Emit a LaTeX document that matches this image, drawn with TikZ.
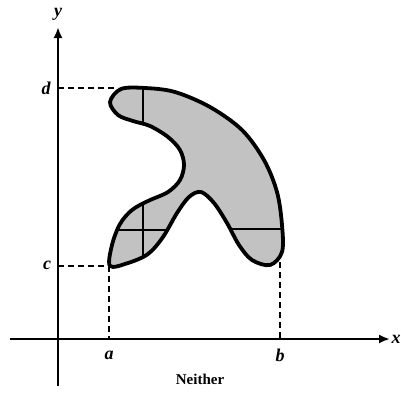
\documentclass[tikz,border=0pt]{standalone}
\usepackage{fontspec}
\setmainfont{Liberation Serif}
\usetikzlibrary{arrows.meta}
\begin{document}
\begin{tikzpicture}[x=1pt,y=-1pt,
  axis/.style={line width=2.3pt,-{Latex[length=11pt,width=9pt]}},
  guide/.style={line width=2.1pt,dash pattern=on 6pt off 4pt},
  edge/.style={line width=3.8pt,line join=round},
  slice/.style={line width=2.6pt},
  lab/.style={font=\fontsize{18}{18}\selectfont\bfseries\itshape,inner sep=0pt}]
\useasboundingbox (0,0) rectangle (401,399);
\def\region{plot[smooth cycle,tension=0.55] coordinates{
 (110,102) (121,89) (145,88) (175,92) (210,107) (242,130) (264,160) (277,192)
 (282,225) (282,252) (270,265) (252,260) (239,245) (227,223) (214,203) (201,192)
 (189,197) (177,213) (163,237) (148,254) (128,263) (110,266) (112,245) (120,224)
 (132,210) (148,201) (168,192) (180,180) (184,165) (180,150) (168,137) (150,126)
 (133,121) (118,115)}}
% axes
\coordinate (xs) at (10,339); \coordinate (xe) at (390,339);
\coordinate (ys) at (58,386); \coordinate (ye) at (58,27);
\draw[axis] (xs) -- (xe);
\draw[axis] (ys) -- (ye);
\node[lab] (ylab) at (58,14) {y};
\node[lab] (xlab) at (396,339) {x};
% guides
\coordinate (d0) at (58,88); \coordinate (d1) at (118,88);
\coordinate (c0) at (58,266); \coordinate (c1) at (110,266);
\coordinate (a0) at (109,266); \coordinate (a1) at (109,339);
\coordinate (b0) at (280,262); \coordinate (b1) at (280,339);
\draw[guide] (d0) -- (d1);
\draw[guide] (c0) -- (c1);
\draw[guide] (a0) -- (a1);
\draw[guide] (b0) -- (b1);
\node[lab] (dlab) at (46,88) {d};
\node[lab] (clab) at (47,265) {c};
\node[lab] (alab) at (109,355) {a};
\node[lab] (blab) at (280,355) {b};
% region
\fill[gray!48] \region;
\begin{scope}
\clip \region;
\draw[slice] (143,80) -- (143,130);
\draw[slice] (143,195) -- (143,270);
\draw[slice] (100,230) -- (200,230);
\draw[slice] (215,229) -- (300,229);
\end{scope}
\draw[edge] \region;
\node[font=\fontsize{15}{15}\selectfont\bfseries,inner sep=0pt] (cap) at (200,379) {Neither};
\end{tikzpicture}
\end{document}
